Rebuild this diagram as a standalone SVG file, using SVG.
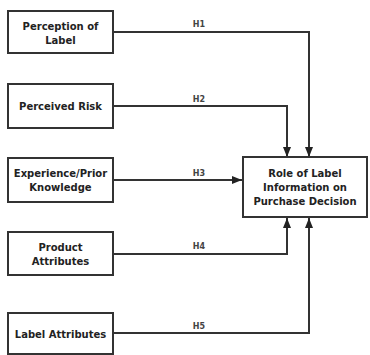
<svg xmlns="http://www.w3.org/2000/svg" width="370" height="355" viewBox="0 0 370 355">
<defs>
<style>
.box{fill:#fff;stroke:#333;stroke-width:2}
.t{font-family:"DejaVu Sans",sans-serif;font-weight:bold;font-size:10px;fill:#222;text-anchor:middle}
.h{font-family:"DejaVu Sans",sans-serif;font-weight:bold;font-size:8px;fill:#444;text-anchor:middle}
.c{fill:none;stroke:#333;stroke-width:2}
</style>
<marker id="ah" markerUnits="userSpaceOnUse" markerWidth="10" markerHeight="10" viewBox="0 0 10 10" refX="10" refY="5" orient="auto">
<path d="M0,1 L10,5 L0,9 Z" fill="#222"/>
</marker>
</defs>
<rect width="370" height="355" fill="#fff"/>
<g id="connectors">
<path class="c" d="M113,32 H309 V157" marker-end="url(#ah)"/>
<path class="c" d="M113,106 H287 V157" marker-end="url(#ah)"/>
<path class="c" d="M113,180 H242" marker-end="url(#ah)"/>
<path class="c" d="M113,254 H287 V218" marker-end="url(#ah)"/>
<path class="c" d="M113,333 H309 V218" marker-end="url(#ah)"/>
<text class="h" x="199" y="27">H1</text>
<text class="h" x="199" y="102">H2</text>
<text class="h" x="199" y="176">H3</text>
<text class="h" x="199" y="249">H4</text>
<text class="h" x="199" y="329">H5</text>
</g>
<g id="n1"><rect class="box" x="8" y="11" width="105" height="42"/>
<text class="t" x="60.5" y="30">Perception of</text><text class="t" x="60.5" y="44">Label</text></g>
<g id="n2"><rect class="box" x="8" y="84" width="105" height="44"/>
<text class="t" x="60.5" y="109.5">Perceived Risk</text></g>
<g id="n3"><rect class="box" x="8" y="158" width="105" height="44"/>
<text class="t" x="60.5" y="177">Experience/Prior</text><text class="t" x="60.5" y="191">Knowledge</text></g>
<g id="n4"><rect class="box" x="8" y="232" width="105" height="43"/>
<text class="t" x="60.5" y="251">Product</text><text class="t" x="60.5" y="264.5">Attributes</text></g>
<g id="n5"><rect class="box" x="8" y="313" width="105" height="41"/>
<text class="t" x="60.5" y="337.5">Label Attributes</text></g>
<g id="target"><rect class="box" x="243" y="157" width="124" height="60"/>
<text class="t" x="305" y="176.5">Role of Label</text><text class="t" x="305" y="190.5">Information on</text><text class="t" x="305" y="204.5">Purchase Decision</text></g>
</svg>
